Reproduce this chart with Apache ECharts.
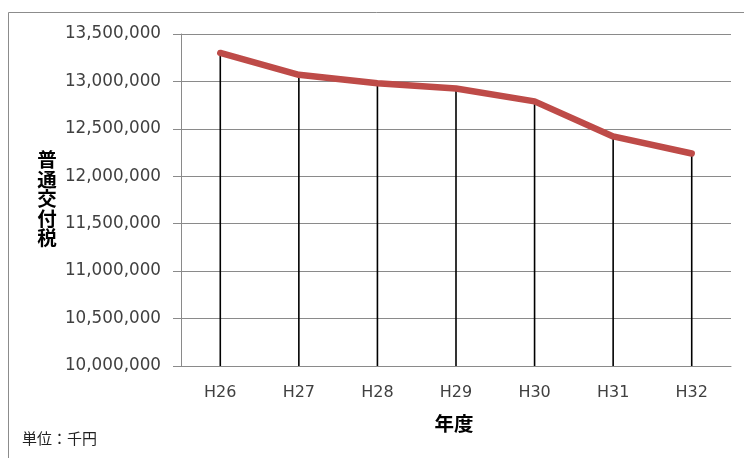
<!DOCTYPE html>
<html>
<head>
<meta charset="utf-8">
<script src="https://cdn.jsdelivr.net/npm/echarts@6/dist/echarts.min.js"></script>
<style>
html,body{margin:0;padding:0;background:#fff;}
#c{width:744px;height:458px;}
</style>
</head>
<body>
<div id="c"></div>
<script>
var categories = ['H26','H27','H28','H29','H30','H31','H32'];
var values = [13300000, 13070000, 12980000, 12925000, 12790000, 12420000, 12240000];
var yMin = 10000000, yMax = 13500000, yStep = 500000;
var yTitle = '普通交付税';
var xTitle = '年度';
var unitNote = '単位：千円';

var chart = echarts.init(document.getElementById('c'), null, {renderer:'canvas'});
chart.setOption({
  backgroundColor:'#fff',
  animation:false,
  grid:{left:181, top:34, right:13, bottom:92, containLabel:false},
  xAxis:{
    type:'category', data:categories, boundaryGap:true,
    axisLine:{show:true, lineStyle:{color:'#8a8a8a', width:1}},
    axisTick:{show:false},
    axisLabel:{color:'#404040', fontSize:16, fontFamily:'DejaVu Sans', margin:19},
    splitLine:{show:false}
  },
  yAxis:{
    type:'value', min:yMin, max:yMax, interval:yStep,
    axisLine:{show:true, lineStyle:{color:'#8a8a8a', width:1}},
    axisTick:{show:true, inside:false, length:8, lineStyle:{color:'#8a8a8a'}},
    axisLabel:{color:'#404040', fontSize:16.8, fontFamily:'DejaVu Sans', margin:20,
      formatter:function(v){return v.toString().replace(/\B(?=(\d{3})+(?!\d))/g, ',');}},
    splitLine:{show:true, lineStyle:{color:'#8a8a8a', width:1}}
  },
  series:[
    {type:'bar', data:values, barWidth:1.6, clip:true, z:2,
     itemStyle:{color:'#000'}, silent:true},
    {type:'line', data:values, symbol:'none', z:3,
     lineStyle:{color:'#BE4B48', width:6.5, cap:'round', join:'round'}}
  ],
  graphic:[
    {type:'polyline', shape:{points:[[8.5,458],[8.5,12.5],[744,12.5]]}, style:{stroke:'#8c8c8c', lineWidth:1, fill:null}, silent:true},
    {type:'text', x:47, y:150, style:{text:yTitle.split('').join('\n'), font:'bold 19.5px "Noto Sans CJK JP"', lineHeight:19.5, fill:'#000', align:'center', verticalAlign:'top'}},
    {type:'text', x:454, y:424, style:{text:xTitle, font:'bold 19.5px "Noto Sans CJK JP"', fill:'#000', align:'center', verticalAlign:'middle'}},
    {type:'text', x:22, y:438, style:{text:unitNote, font:'15px "Noto Sans CJK JP"', fill:'#222', align:'left', verticalAlign:'middle'}}
  ]
});
</script>
</body>
</html>
